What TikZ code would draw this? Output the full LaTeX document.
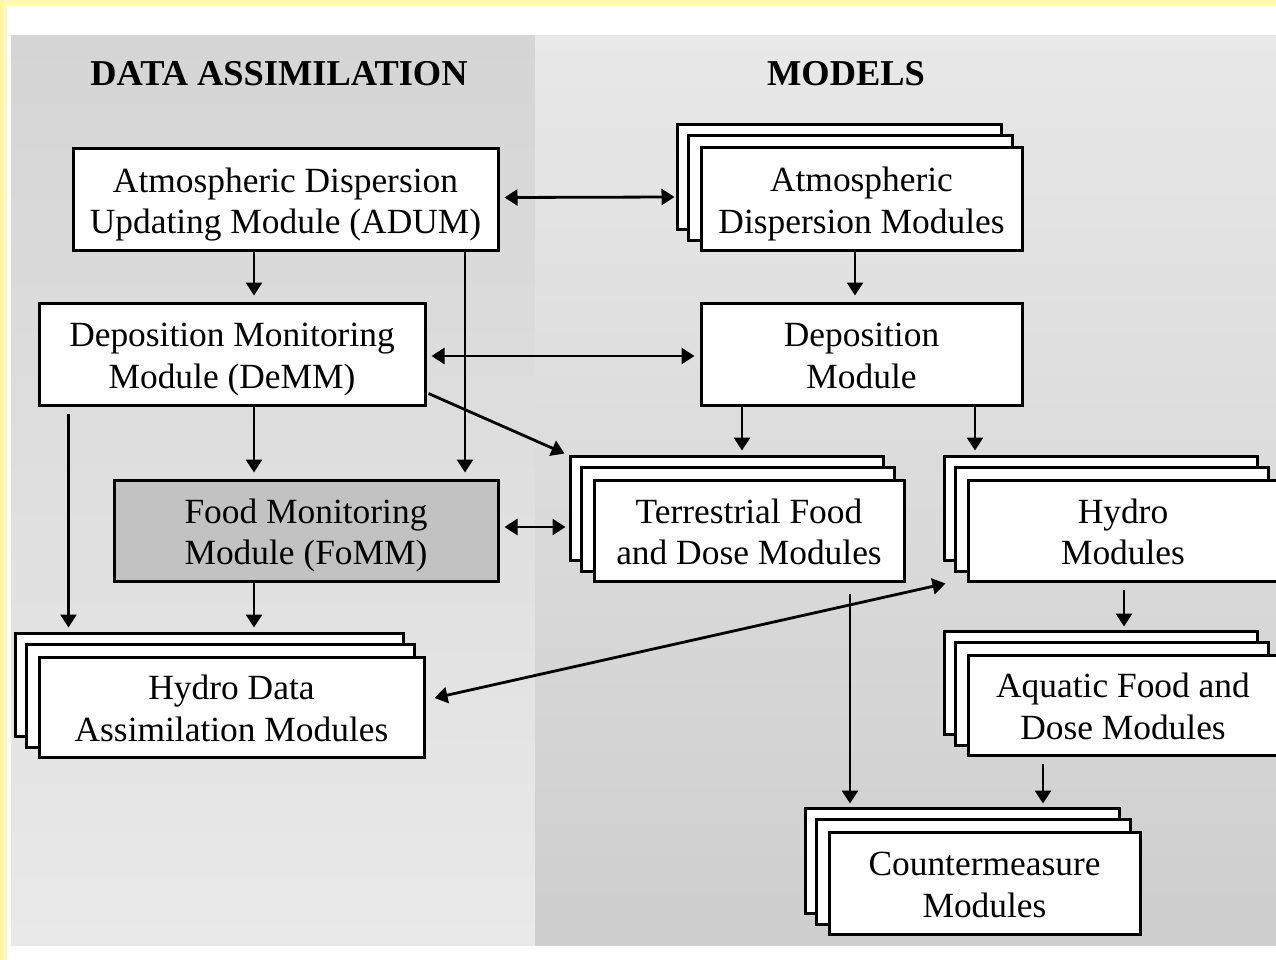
\documentclass[tikz,border=0pt]{standalone}
\usepackage{fontspec}
\setmainfont{Liberation Serif}
\usetikzlibrary{arrows.meta,calc}
\definecolor{ylwA}{HTML}{FFF3A0}
\definecolor{ylwB}{HTML}{FFFAD0}
\definecolor{ylwT}{HTML}{FFF7B0}
\definecolor{panLtop}{HTML}{D5D5D5}
\definecolor{panLbot}{HTML}{E9E9E9}
\definecolor{panRtop}{HTML}{E8E8E8}
\definecolor{panRbot}{HTML}{CECECE}
\definecolor{fommfill}{HTML}{C2C2C2}
\newcommand{\topst}{\rule{0pt}{35pt}}
\newcommand{\botst}{\rule[-8pt]{0pt}{8pt}}
\pgfdeclarelayer{bg}
\pgfdeclarelayer{stack}
\pgfsetlayers{bg,stack,main}
\begin{document}
\begin{tikzpicture}[x=1pt,y=-1pt,
  box/.style={draw=black, fill=white, line width=3pt, align=center, inner sep=0pt,
    font=\fontsize{35.4}{41.5}\selectfont},
  sz/.style 2 args={minimum width=#1pt, minimum height=#2pt},
  stackbox/.style={draw=black, fill=white, line width=3pt},
  arr/.style={line width=2.8pt, -{Triangle[length=13pt,width=16pt]}},
  darr/.style={line width=2.8pt, {Triangle[length=13pt,width=16pt]}-{Triangle[length=13pt,width=16pt]}},
  titletext/.style={font=\fontsize{36.4}{42}\selectfont\bfseries, anchor=base, inner sep=0pt},
  ]
\useasboundingbox (0,0) rectangle (1276,960);

% nodes
\node[box,sz={425}{101}] (adum) at (285.5,199.5) {\topst Atmospheric Dispersion\\Updating Module (ADUM)\botst};
\node[box,sz={321}{102}] (adm) at (861.5,199) {\topst Atmospheric\\Dispersion Modules\botst};
\node[box,sz={386}{102}] (demm) at (232,354) {\topst Deposition Monitoring\\Module (DeMM)\botst};
\node[box,sz={321}{102}] (dep) at (861.5,354) {\topst Deposition\\Module\botst};
\node[box,sz={384}{101},fill=fommfill] (fomm) at (306,530.5) {\topst Food Monitoring\\Module (FoMM)\botst};
\node[box,sz={310}{101}] (terr) at (749,530.5) {\topst Terrestrial Food\\and Dose Modules\botst};
\node[box,sz={310}{101}] (hydro) at (1123,530.5) {\topst Hydro\\Modules\botst};
\node[box,sz={310}{100}] (aqua) at (1123,705) {\topst Aquatic Food and\\Dose Modules\botst};
\node[box,sz={385}{100}] (hda) at (231.5,707) {\topst Hydro Data\\Assimilation Modules\botst};
\node[box,sz={311}{102}] (cm) at (984.5,883) {\topst Countermeasure\\Modules\botst};

\node[titletext] (t1) at (279,86) {DATA ASSIMILATION};
\node[titletext] (t2) at (846,86) {MODELS};

% background
\begin{pgfonlayer}{bg}
  \fill[white] (0,0) rectangle (1276,960);
  \fill[ylwT] (0,0) rectangle (1276,5);
  \shade[left color=ylwA, right color=ylwB] (0,0) rectangle (7,960);
  \shade[top color=panLtop, bottom color=panLbot] (11,36) rectangle (535,945);
  \shade[top color=panRtop, bottom color=panRbot] (535,36) rectangle (1276,945);
\end{pgfonlayer}

% stacked copies
\begin{pgfonlayer}{stack}
  \foreach \n in {adm,terr,hydro,aqua,hda,cm}{
    \foreach \s in {22,11}{
      \draw[stackbox] ([shift={(-\s pt,\s pt)}]\n.north west) rectangle ([shift={(-\s pt,\s pt)}]\n.south east);
    }
  }
\end{pgfonlayer}

% connectors
\draw[darr] ([shift={(5pt,2pt)}]adum.east) -- ([shift={(-25pt,2pt)}]adm.west);
\draw[arr,shorten >=6pt] ([xshift=22pt]demm.north |- adum.south) -- ([xshift=22pt]demm.north);
\draw[arr,shorten >=6pt] ([xshift=159pt]fomm.north |- adum.south) -- ([xshift=159pt]fomm.north);
\draw[arr,shorten >=6pt] ([xshift=-6.5pt]dep.north |- adm.south) -- ([xshift=-6.5pt]dep.north);
\draw[darr] ([shift={(5pt,-2pt)}]demm.east) -- ([shift={(-5pt,-2pt)}]dep.west);
\draw[arr] ([shift={(2pt,13pt)}]demm.south east) -- ([shift={(-28pt,25pt)}]terr.north west);
\draw[arr,shorten >=6pt] ([xshift=22pt]demm.south) -- ([xshift=22pt]demm.south |- fomm.north);
\draw[arr,shorten >=28pt] ([shift={(31pt,-7pt)}]demm.south west) -- ([xshift=31pt]demm.south west |- hda.north);
\draw[arr,shorten >=28pt] ([xshift=-119.5pt]dep.south) -- ([xshift=-119.5pt]dep.south |- terr.north);
\draw[arr,shorten >=28pt] ([xshift=113.5pt]dep.south) -- ([xshift=113.5pt]dep.south |- hydro.north);
\draw[darr] ([shift={(5pt,3.5pt)}]fomm.east) -- ([shift={(-27pt,3.5pt)}]terr.west);
\draw[arr,shorten >=28pt] ([xshift=-52pt]fomm.south) -- ([xshift=-52pt]fomm.south |- hda.north);
\draw[darr] ([shift={(9pt,9pt)}]hda.east) -- ([shift={(-21pt,-1pt)}]hydro.south west);
\draw[arr,shorten >=27pt] ([shift={(101pt,-11pt)}]terr.south) -- ([xshift=101pt]terr.south |- cm.north);
\draw[arr,shorten >=27pt] ([shift={(1pt,-7pt)}]hydro.south) -- ([xshift=1pt]hydro.south |- aqua.north);
\draw[arr,shorten >=27pt] ([shift={(-80pt,-7pt)}]aqua.south) -- ([xshift=-80pt]aqua.south |- cm.north);
\end{tikzpicture}
\end{document}
